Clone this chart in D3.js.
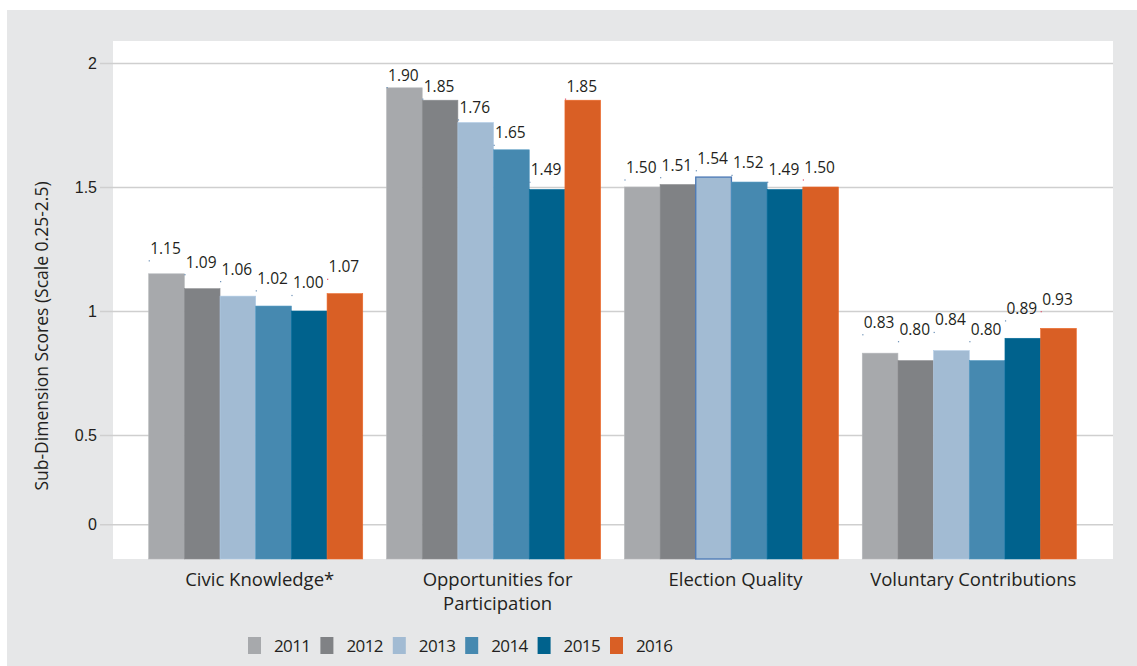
<!DOCTYPE html>
<html>
<head>
<meta charset="utf-8">
<script src="https://cdn.jsdelivr.net/npm/d3@7/dist/d3.min.js"></script>
<style>
  html, body { margin: 0; padding: 0; background: #ffffff; }
  svg { display: block; font-family: "Open Sans", "Noto Sans", sans-serif; }
</style>
</head>
<body>
<svg id="chart" width="1137" height="666"></svg>
<script>
// ---- data ----
const categories = ["Civic Knowledge*", "Opportunities for\nParticipation", "Election Quality", "Voluntary Contributions"];
const years = ["2011", "2012", "2013", "2014", "2015", "2016"];
const values2011 = [1.15, 1.90, 1.50, 0.83];
const values2012 = [1.09, 1.85, 1.51, 0.80];
const values2013 = [1.06, 1.76, 1.54, 0.84];
const values2014 = [1.02, 1.65, 1.52, 0.80];
const values2015 = [1.00, 1.49, 1.49, 0.89];
const values2016 = [1.07, 1.85, 1.50, 0.93];
const seriesValues = [values2011, values2012, values2013, values2014, values2015, values2016];
const colors = ["#a7a9ac", "#808285", "#a2bbd3", "#4689b0", "#00628d", "#d95f25"];
const tickValues = [0.14, 0.5, 1, 1.5, 2];
const tickLabels = ["0", "0.5", "1", "1.5", "2"];
const yTitle = "Sub-Dimension Scores (Scale 0.25-2.5)";

const svg = d3.select("#chart");
const textColor = "#231f20";

// background
svg.append("rect").attr("x", 7).attr("y", 10).attr("width", 1130).attr("height", 656).attr("fill", "#e6e7e8");
svg.append("rect").attr("x", 113).attr("y", 41).attr("width", 1000).attr("height", 518).attr("fill", "#ffffff");

// scales
const x0 = d3.scaleBand().domain(categories).range([113, 1112]).paddingInner(0.1).paddingOuter(0.15);
const x1 = d3.scaleBand().domain(years).range([0, x0.bandwidth()]);
const y = d3.scaleLinear().domain([0, 2]).range([559, 63]);
const yLabel = d3.scaleLinear().domain([0, 2]).range([513.9, 51.9]);

// gridlines + tick labels via axis
const yAxis = d3.axisLeft(y).tickValues(tickValues).tickFormat((d, i) => tickLabels[i]).tickSize(-1013).tickPadding(3);
const ga = svg.append("g").attr("transform", "translate(100,0)").call(yAxis);
ga.select(".domain").remove();
ga.selectAll(".tick line").attr("stroke", "#cfcfcf").attr("stroke-width", 1.5);
ga.selectAll(".tick text").attr("fill", textColor).attr("font-size", 16).attr("x", -3);

// bars
const rows = [];
categories.forEach((c, ci) => {
  years.forEach((yr, yi) => {
    rows.push({ cat: c, year: yr, yi: yi, value: seriesValues[yi][ci] });
  });
});

const bars = svg.append("g");
bars.selectAll("rect").data(rows).join("rect")
  .attr("x", d => x0(d.cat) + x1(d.year))
  .attr("y", d => y(d.value))
  .attr("width", x1.bandwidth())
  .attr("height", d => y(0) - y(d.value))
  .attr("fill", d => colors[d.yi])
  .attr("stroke", d => (d.cat === "Election Quality" && d.year === "2013") ? "#4a78b5" : d3.color(colors[d.yi]).brighter(0.25))
  .attr("stroke-width", d => (d.cat === "Election Quality" && d.year === "2013") ? 1.3 : 0.6);

// value labels
const labels = svg.append("g");
labels.selectAll("text").data(rows).join("text")
  .attr("x", d => x0(d.cat) + x1(d.year) + 1.5)
  .attr("y", d => yLabel(d.value) + 5.5)
  .attr("font-size", 15.5)
  .attr("fill", textColor)
  .text(d => d.value.toFixed(2));
labels.selectAll("rect").data(rows).join("rect")
  .attr("x", d => x0(d.cat) + x1(d.year))
  .attr("y", d => yLabel(d.value) + 12)
  .attr("width", 1.2).attr("height", 1.2)
  .attr("fill", d => d.yi === 5 ? "#e0506a" : "#6a8fb5");

// category labels
const cl = svg.append("g");
categories.forEach(c => {
  const lines = c.split("\n");
  const cx = x0(c) + x0.bandwidth() / 2 + 4;
  const t = cl.append("text")
    .attr("x", cx)
    .attr("y", 586)
    .attr("text-anchor", "middle")
    .attr("font-size", 18.5)
    .attr("fill", textColor);
  lines.forEach((ln, i) => {
    t.append("tspan").attr("x", cx).attr("dy", i === 0 ? 0 : 24).text(ln);
  });
});

// y title
svg.append("text")
  .attr("transform", "translate(48,336) rotate(-90)")
  .attr("text-anchor", "middle")
  .attr("font-size", 17.5)
  .attr("fill", textColor)
  .text(yTitle);

// legend
const lx = d3.scalePoint().domain(years).range([248, 610]);
const lg = svg.append("g");
years.forEach((yr, i) => {
  lg.append("rect").attr("x", lx(yr)).attr("y", 637).attr("width", 13).attr("height", 17).attr("fill", colors[i]);
  lg.append("text").attr("x", lx(yr) + 26).attr("y", 652).attr("font-size", 17).attr("letter-spacing", -0.6).attr("fill", textColor).text(yr);
});
</script>
</body>
</html>
